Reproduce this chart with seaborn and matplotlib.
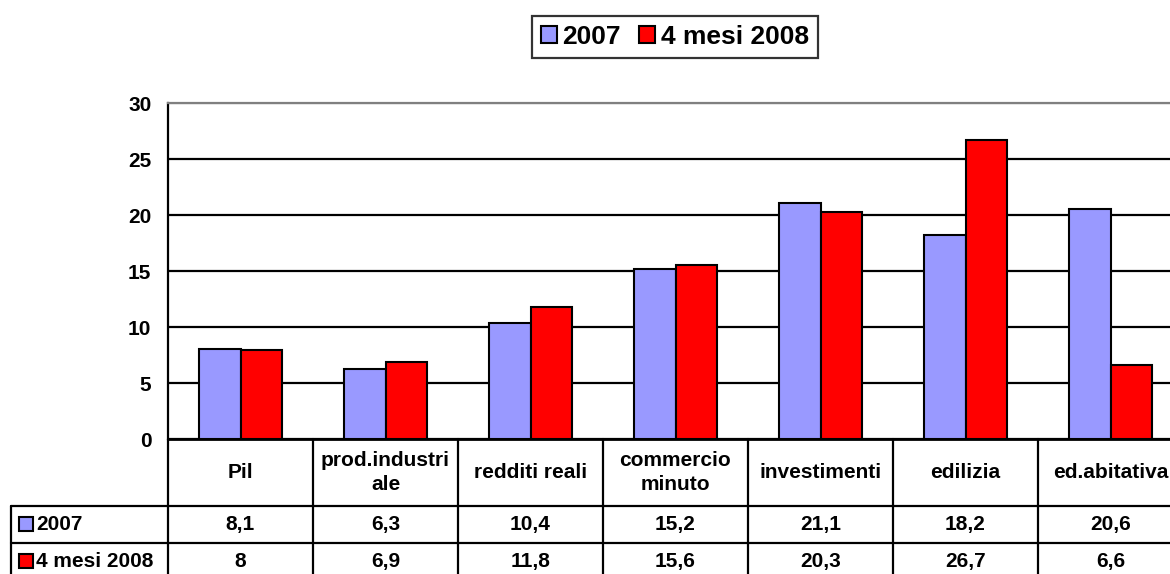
import pandas as pd
import seaborn as sns
import matplotlib.pyplot as plt
from matplotlib.patches import Patch
from matplotlib.transforms import blended_transform_factory

# data
categories = ['Pil', 'prod.industri\nale', 'redditi reali', 'commercio\nminuto',
              'investimenti', 'edilizia', 'ed.abitativa']
series_names = ['2007', '4 mesi 2008']
values_2007 = [8.1, 6.3, 10.4, 15.2, 21.1, 18.2, 20.6]
values_2008 = [8.0, 6.9, 11.8, 15.6, 20.3, 26.7, 6.6]
colors = ['#9999FF', '#FF0000']

df = pd.DataFrame({
    'categoria': categories * 2,
    'serie': [series_names[0]] * len(categories) + [series_names[1]] * len(categories),
    'valore': values_2007 + values_2008,
})

sns.set_style('white')
plt.rcParams['font.family'] = ['Liberation Sans', 'DejaVu Sans']
plt.rcParams['font.weight'] = 'bold'
plt.rcParams['text.color'] = 'black'
plt.rcParams['ytick.color'] = 'black'
plt.rcParams['xtick.color'] = 'black'

FS = 15

W, H = 1170, 574
fig = plt.figure(figsize=(W / 100, H / 100), dpi=100)
ax = fig.add_axes([168 / W, (H - 439.3) / H, 1015 / W, 336 / H])

sns.barplot(data=df, x='categoria', y='valore', hue='serie', order=categories,
            hue_order=series_names, palette=colors, saturation=1, width=0.57,
            edgecolor='black', linewidth=1.5, errorbar=None, legend=False, ax=ax)

# axes
ax.set_xlim(-0.5, len(categories) - 0.5)
ax.set_ylim(0, 30)
ax.set_yticks(range(0, 31, 5))
ax.set_xticks([])
ax.set_xlabel('')
ax.set_ylabel('')
ax.set_axisbelow(True)
ax.yaxis.grid(True, color='black', linewidth=1.6)
ax.get_ygridlines()[-1].set_color('#808080')
ax.tick_params(axis='y', length=7, width=1.5, color='black', labelcolor='black',
               pad=5, labelsize=FS)
for lbl in ax.get_yticklabels():
    lbl.set_fontweight('bold')
ax.spines['left'].set_color('black')
ax.spines['left'].set_linewidth(1.6)
ax.spines['bottom'].set_color('black')
ax.spines['bottom'].set_linewidth(2)
ax.spines['top'].set_color('#808080')
ax.spines['top'].set_linewidth(1.6)
ax.spines['right'].set_color('#808080')

# data table under the chart
tr = blended_transform_factory(ax.transData, ax.transAxes)
x_left = -0.5 - 157 / 145
y_head = -0.1985
y_row1 = -0.3086
y_row2 = -0.4187
n = len(categories)
line_kw = dict(color='black', linewidth=1.6, transform=tr, clip_on=False)

for i in range(n + 1):
    ax.plot([i - 0.5, i - 0.5], [0, y_row2], **line_kw)
ax.plot([x_left, x_left], [y_head, y_row2], **line_kw)
ax.plot([x_left, n - 0.5], [y_head, y_head], **line_kw)
ax.plot([x_left, n - 0.5], [y_row1, y_row1], **line_kw)


def fmt(v):
    return f'{v:g}'.replace('.', ',')


for i, cat in enumerate(categories):
    ax.text(i, y_head / 2, cat, transform=tr, ha='center', va='center',
            fontsize=FS, fontweight='bold', linespacing=1.35)
    ax.text(i, (y_head + y_row1) / 2, fmt(values_2007[i]), transform=tr,
            ha='center', va='center', fontsize=FS, fontweight='bold')
    ax.text(i, (y_row1 + y_row2) / 2, fmt(values_2008[i]), transform=tr,
            ha='center', va='center', fontsize=FS, fontweight='bold')

key_x = -0.5 - (168 - 25.5) / 145
text_x = -0.5 - (168 - 36) / 145
for name, col, yc in zip(series_names, colors,
                         [(y_head + y_row1) / 2, (y_row1 + y_row2) / 2]):
    ax.plot([key_x], [yc], marker='s', markersize=10, markerfacecolor=col,
            markeredgecolor='black', markeredgewidth=1.5, transform=tr, clip_on=False)
    ax.text(text_x, yc, name, transform=tr, ha='left', va='center',
            fontsize=FS, fontweight='bold')

# legend
handles = [Patch(facecolor=c, edgecolor='black', linewidth=1.5) for c in colors]
leg = fig.legend(handles, series_names, loc='center', bbox_to_anchor=(675 / W, 1 - 37 / H),
                 ncol=2, frameon=True, fancybox=False, edgecolor='black',
                 prop={'size': 19, 'weight': 'bold'}, handlelength=0.6,
                 handleheight=0.6, handletextpad=0.2, columnspacing=0.7,
                 borderpad=0.35, borderaxespad=0)
leg.get_frame().set_linewidth(1.6)

fig.savefig('out.png', dpi=100)
